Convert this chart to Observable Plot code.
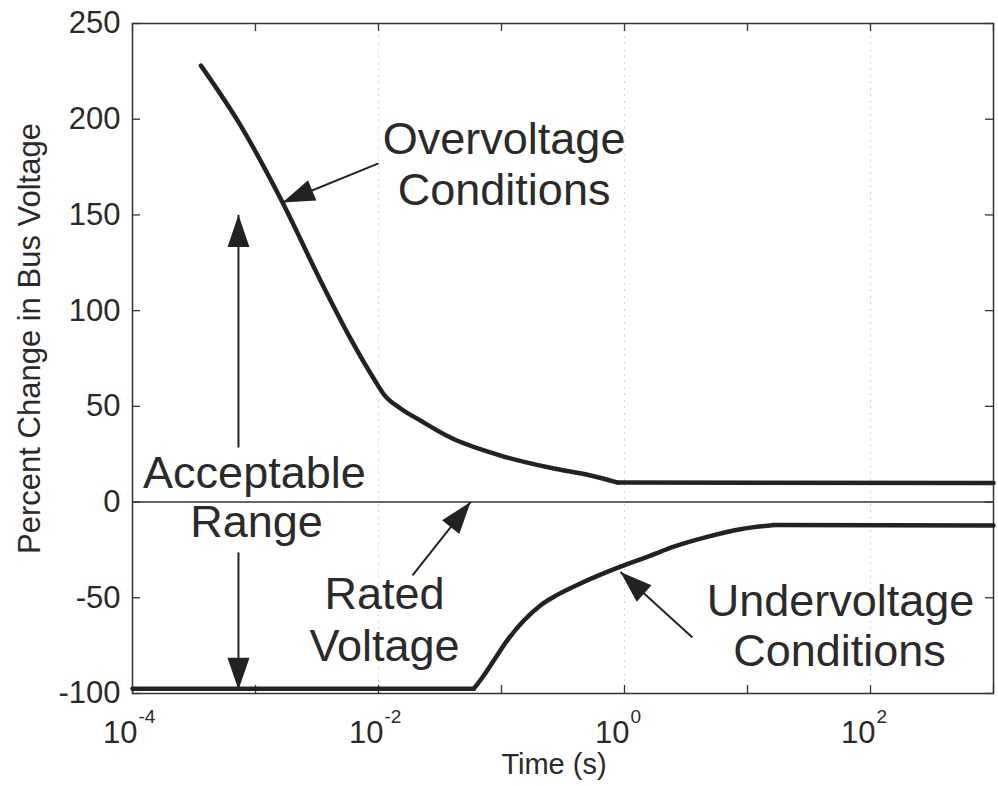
<!DOCTYPE html>
<html>
<head>
<meta charset="utf-8">
<script src="https://cdn.jsdelivr.net/npm/d3@7"></script>
<script src="https://cdn.jsdelivr.net/npm/@observablehq/plot@0.6"></script>
<style>
  html, body { margin: 0; padding: 0; background: #fff; }
</style>
</head>
<body>
<div id="chart"></div>
<script>
// ---------- data ----------
const overTime = [3.6e-4, 7.55e-4, 1.66e-3, 3.37e-3, 5.91e-3, 8.93e-3, 0.0114, 0.0151, 0.0219, 0.0385, 0.098, 0.25, 0.53, 0.88, 1000];
const overPct  = [228,    196.8,   156.5,   115.8,   85.5,    65.6,    55.2,   48.9,   42.6,   33.7,   24.3,  17.9, 13.9, 10.2, 10];

const underTime = [1e-4,  0.0596, 0.0718, 0.0865, 0.111, 0.152, 0.207, 0.284, 0.439, 0.723, 0.927, 1.53,  2.52,  4.7,   8.77, 16.4,  1000];
const underPct  = [-97.5, -97.5,  -90.6,  -82.8,  -72.4, -61.9, -54.0, -48.5, -42.5, -36.5, -33.7, -28.6, -23.3, -18.2, -14.2, -12.0, -12.3];

const yTicks = [-100, -50, 0, 50, 100, 150, 200, 250];
const xTickDecades = [1e-4, 1e-3, 1e-2, 1e-1, 1, 10, 100, 1000];
const xLabelExponents = [-4, -2, 0, 2];
const xLabelBase = "10";
const gridDecades = [1e-2, 1, 100];

const yLabel = "Percent Change in Bus Voltage";
const xLabel = "Time (s)";

const annText = ["Overvoltage", "Conditions", "Acceptable", "Range", "Rated", "Voltage", "Undervoltage", "Conditions"];
const annTime = [0.105, 0.105, 0.00098, 0.00102, 0.0112, 0.0112, 57, 56];
const annPct  = [182, 155, 7.6, -18.5, -55.6, -82.8, -59.3, -85.4];

const arrowTailTime = [0.01, 7.27e-4, 7.27e-4, 0.0189, 3.57];
const arrowTailPct  = [176.9, 28.5, -26.3, -38.3, -70.8];
const arrowTipTime  = [0.00166, 7.27e-4, 7.27e-4, 0.056, 0.927];
const arrowTipPct   = [156.5, 150, -98, 0, -36.5];

// ---------- layout ----------
const W = 998, H = 786;
const mL = 132, mR = 5, mT = 23, mB = 93;
const plotW = W - mL - mR, plotH = H - mT - mB;
const xDomain = [1e-4, 1e3], yDomain = [-100, 250];
const ink = "#222";

// pixel-space helpers (same domain/range as Plot scales) for arrowhead angles
const xs = d3.scaleLog(xDomain, [mL, W - mR]);
const ys = d3.scaleLinear(yDomain, [H - mB, mT]);
const arrowIdx = arrowTipTime.map((_, i) => i);
const arrowAngle = arrowIdx.map(i => {
  const dx = xs(arrowTipTime[i]) - xs(arrowTailTime[i]);
  const dy = ys(arrowTipPct[i]) - ys(arrowTailPct[i]);
  return Math.atan2(dx, -dy) * 180 / Math.PI;
});

// filled arrowhead with apex at origin, pointing up
const headSymbol = {
  draw(ctx) {
    const L = 32, w = 11;
    ctx.moveTo(0, 0);
    ctx.lineTo(-w, L);
    ctx.lineTo(w, L);
    ctx.closePath();
  }
};

const overIdx = overTime.map((_, i) => i);
const underIdx = underTime.map((_, i) => i);
const annIdx = annText.map((_, i) => i);
// smooth transient parts, straight steady-state parts
const overCurveIdx = overIdx.slice(0, -1), overFlatIdx = overIdx.slice(-2);
const underFlatStartIdx = underIdx.slice(0, 2), underCurveIdx = underIdx.slice(1, -1), underFlatEndIdx = underIdx.slice(-2);

const lineStyle = {stroke: ink, strokeWidth: 4.5, strokeLinejoin: "round", strokeLinecap: "round"};

const chart = Plot.plot({
  width: W,
  height: H,
  marginLeft: mL, marginRight: mR, marginTop: mT, marginBottom: mB,
  style: {fontFamily: "'Liberation Sans', Arial, Helvetica, sans-serif", color: "#2a2a2a", background: "#fff", overflow: "visible"},
  x: {type: "log", domain: xDomain, axis: null},
  y: {type: "linear", domain: yDomain, axis: null},
  marks: [
    // faint dotted grid
    Plot.ruleX(gridDecades, {stroke: "#c8c8c8", strokeDasharray: "1.5,5", strokeWidth: 1}),
    // zero (rated) line
    Plot.ruleY([0], {stroke: "#333", strokeWidth: 1.6}),
    // inward ticks
    Plot.ruleX(xTickDecades, {insetTop: plotH - 8, stroke: "#333", strokeWidth: 1.3}),
    Plot.ruleX(xTickDecades, {insetBottom: plotH - 8, stroke: "#333", strokeWidth: 1.3}),
    Plot.ruleY(yTicks, {insetRight: plotW - 8, stroke: "#333", strokeWidth: 1.3}),
    Plot.ruleY(yTicks, {insetLeft: plotW - 8, stroke: "#333", strokeWidth: 1.3}),
    Plot.frame({stroke: "#333", strokeWidth: 1.5}),
    // curves
    Plot.line(overCurveIdx, {x: i => overTime[i], y: i => overPct[i], curve: "monotone-x", ...lineStyle}),
    Plot.line(overFlatIdx, {x: i => overTime[i], y: i => overPct[i], curve: "linear", ...lineStyle}),
    Plot.line(underFlatStartIdx, {x: i => underTime[i], y: i => underPct[i], curve: "linear", ...lineStyle}),
    Plot.line(underCurveIdx, {x: i => underTime[i], y: i => underPct[i], curve: "monotone-x", ...lineStyle}),
    Plot.line(underFlatEndIdx, {x: i => underTime[i], y: i => underPct[i], curve: "linear", ...lineStyle}),
    // arrows
    Plot.link(arrowIdx, {x1: i => arrowTailTime[i], y1: i => arrowTailPct[i], x2: i => arrowTipTime[i], y2: i => arrowTipPct[i], stroke: ink, strokeWidth: 2}),
    Plot.dot(arrowIdx, {x: i => arrowTipTime[i], y: i => arrowTipPct[i], symbol: headSymbol, rotate: i => arrowAngle[i], fill: ink, stroke: "none"}),
    // annotations
    Plot.text(annIdx, {x: i => annTime[i], y: i => annPct[i], text: i => annText[i], lineAnchor: "bottom", fontSize: 45, fill: "#2a2a2a"}),
    // y tick labels
    Plot.text(yTicks, {x: 1e-4, y: d => d, text: d => String(d), textAnchor: "end", dx: -12, fontSize: 31, fill: "#2a2a2a"}),
    // x tick labels 10^n
    Plot.text(xLabelExponents, {x: e => 10 ** e, y: -100, text: () => xLabelBase, textAnchor: "end", lineAnchor: "bottom", dx: 5, dy: 49, fontSize: 31, fill: "#2a2a2a"}),
    Plot.text(xLabelExponents, {x: e => 10 ** e, y: -100, text: e => String(e), textAnchor: "start", lineAnchor: "bottom", dx: 6, dy: 29, fontSize: 19, fill: "#2a2a2a"}),
    // axis titles
    Plot.text([yLabel], {frameAnchor: "left", textAnchor: "middle", lineAnchor: "middle", rotate: -90, dx: -102, dy: -20, fontSize: 31, fill: "#2a2a2a"}),
    Plot.text([xLabel], {frameAnchor: "bottom", textAnchor: "middle", dx: -9, dy: 80, lineAnchor: "bottom", fontSize: 29, fill: "#2a2a2a"})
  ]
});

document.getElementById("chart").appendChild(chart);
</script>
</body>
</html>
